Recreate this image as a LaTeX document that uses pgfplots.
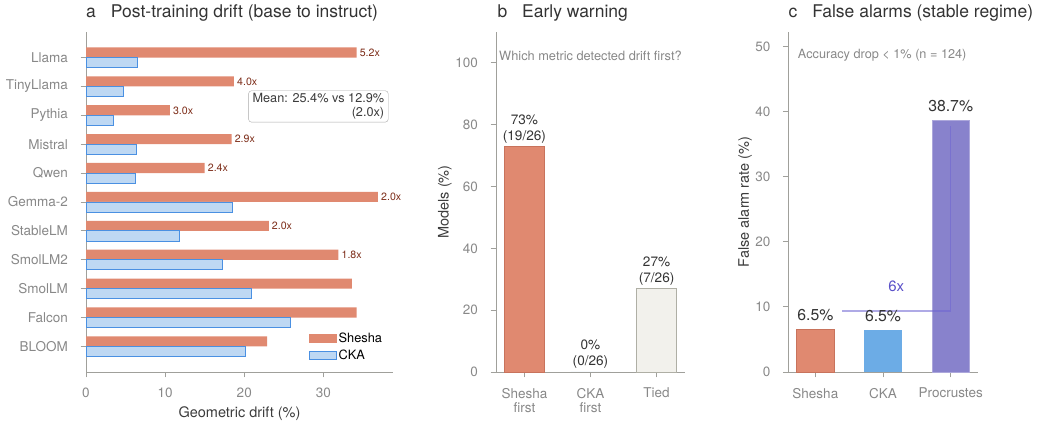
\documentclass[border=0pt]{standalone}
\usepackage{pgfplots}
\pgfplotsset{compat=1.18}
\usepackage{fontspec}
\setmainfont{TeX Gyre Heros}
\definecolor{shesha}{RGB}{224,137,112}
\definecolor{sheshaedge}{RGB}{200,115,92}
\definecolor{ckalight}{RGB}{190,216,243}
\definecolor{ckaedge}{RGB}{74,144,226}
\definecolor{ckac}{RGB}{108,172,230}
\definecolor{procr}{RGB}{136,130,204}
\definecolor{procline}{RGB}{110,100,210}
\definecolor{sixx}{RGB}{90,80,200}
\definecolor{tied}{RGB}{242,241,236}
\definecolor{tiededge}{RGB}{175,175,165}
\definecolor{spine}{RGB}{160,160,155}
\definecolor{tickc}{RGB}{136,136,136}
\definecolor{labc}{RGB}{60,60,60}
\definecolor{titlec}{RGB}{51,51,51}
\definecolor{ratioc}{RGB}{125,45,25}
\definecolor{boxc}{RGB}{170,170,170}

\pgfplotstableread{
y x lab
0 22.9 {}
1 34.2 {}
2 33.6 {}
3 31.9 1.8x
4 23.1 2.0x
5 36.9 2.0x
6 15.0 2.4x
7 18.4 2.9x
8 10.6 3.0x
9 18.7 4.0x
10 34.2 5.2x
}\sheshatab
\pgfplotstableread{
y x
0 20.2
1 25.9
2 20.9
3 17.2
4 11.8
5 18.5
6 6.3
7 6.4
8 3.5
9 4.7
10 6.5
}\ckatab

\begin{document}
\begin{tikzpicture}
\useasboundingbox (0pt,0pt) rectangle (1038pt,425pt);
\pgfplotsset{
  base/.style={
    scale only axis, anchor=south west,
    axis x line*=bottom, axis y line*=left,
    axis line style={spine, line width=0.9pt, -},
    tick align=outside, major tick length=5.5pt,
    tick style={spine, line width=0.9pt},
    ticklabel style={font=\fontsize{13.5}{16}\selectfont, text=tickc},
    xticklabel style={yshift=-7pt},
    yticklabel style={xshift=-9pt},
    /pgf/number format/assume math mode=true,
    label style={font=\fontsize{14.5}{17}\selectfont, text=labc},
    clip=false,
  }
}
% Titles
\node[anchor=base west, font=\fontsize{17.5}{20}\selectfont, text=titlec, inner sep=0pt] at (86pt,407.7pt) {a\hspace{15pt}Post-training drift (base to instruct)};
\node[anchor=base west, font=\fontsize{17.5}{20}\selectfont, text=titlec, inner sep=0pt] at (497.3pt,407.7pt) {b\hspace{15pt}Early warning};
\node[anchor=base west, font=\fontsize{17.5}{20}\selectfont, text=titlec, inner sep=0pt] at (788.3pt,407.7pt) {c\hspace{15pt}False alarms (stable regime)};

% Panel a
\begin{axis}[base, at={(86pt,53pt)}, width=307pt, height=340pt,
  xmin=0, xmax=38.8, ymin=-0.885, ymax=10.885,
  xtick={0,10,20,30}, ytick={0,...,10},
  yticklabels={BLOOM,Falcon,SmolLM,SmolLM2,StableLM,Gemma-2,Qwen,Mistral,Pythia,TinyLlama,Llama},
  xlabel={Geometric drift (\%)},
  xlabel style={at={(rel axis cs:0.5,-0.1324)}, anchor=base},
  legend style={draw=none, fill=none, at={(rel axis cs:0.725,0.121)}, anchor=north west,
    font=\fontsize{12.8}{15}\selectfont, text=black, row sep=2pt, inner sep=0pt},
  legend cell align=left,
]
\addplot[xbar, bar width=0.35, bar shift=0.175, fill=shesha, draw=none, forget plot,
  nodes near coords, point meta=explicit symbolic,
  nodes near coords style={font=\fontsize{10.6}{12}\selectfont, text=ratioc, anchor=west, inner sep=3pt, yshift=5pt}]
  table[x=x, y=y, meta=lab] {\sheshatab};
\addplot[xbar, bar width=0.35, bar shift=-0.175, fill=ckalight, draw=ckaedge, line width=0.9pt, forget plot]
  table[x=x, y=y] {\ckatab};
\addlegendimage{legend image code/.code={\fill[shesha] (0pt,-4pt) rectangle (27pt,4pt);}}
\addlegendentry{Shesha}
\addlegendimage{legend image code/.code={\draw[fill=ckalight, draw=ckaedge, line width=0.9pt] (0pt,-4pt) rectangle (27pt,4pt);}}
\addlegendentry{CKA}
\node[draw=boxc, rounded corners=3pt, fill=white, align=right, inner xsep=4pt, inner ysep=2.5pt,
  font=\fontsize{12.7}{14.5}\selectfont, text=labc] at (rel axis cs:0.757,0.781)
  {Mean: 25.4\% vs 12.9\%\\(2.0x)};
\end{axis}

% Panel b
\begin{axis}[base, at={(496pt,53pt)}, width=189pt, height=340pt,
  xmin=-0.43, xmax=2.43, ymin=0, ymax=110,
  xtick={0,1,2}, xticklabels={{Shesha\\first},{CKA\\first},Tied},
  xticklabel style={align=center, font=\fontsize{13.5}{14.3}\selectfont},
  ytick={0,20,...,100},
  ylabel={Models (\%)},
  ylabel style={at={(rel axis cs:-0.27,0.5)}, anchor=center},
  every node near coord/.append style={font=\fontsize{13.6}{16}\selectfont, text=titlec, align=center, anchor=south, inner sep=3pt},
]
\addplot[ybar, bar width=0.6, bar shift=0, fill=shesha, draw=sheshaedge, line width=0.8pt,
  nodes near coords, point meta=explicit symbolic] coordinates {(0,73) [73\%\\(19/26)]};
\addplot[ybar, bar width=0.6, bar shift=0, fill=ckalight, draw=none,
  nodes near coords, point meta=explicit symbolic] coordinates {(1,0) [0\%\\(0/26)]};
\addplot[ybar, bar width=0.6, bar shift=0, fill=tied, draw=tiededge, line width=0.8pt,
  nodes near coords, point meta=explicit symbolic] coordinates {(2,27) [27\%\\(7/26)]};
\node[anchor=west, font=\fontsize{12.8}{15}\selectfont, text=tickc, inner sep=0pt] at (rel axis cs:0.016,0.931) {Which metric detected drift first?};
\end{axis}

% Panel c
\begin{axis}[base, at={(788.3pt,53pt)}, width=189.4pt, height=340pt,
  xmin=-0.4, xmax=2.4, ymin=0, ymax=52.2,
  xtick={0,1,2}, xticklabels={Shesha,CKA,Procrustes},
  ytick={0,10,...,50},
  ylabel={False alarm rate (\%)},
  ylabel style={at={(rel axis cs:-0.2286,0.5)}, anchor=center},
  every node near coord/.append style={font=\fontsize{15.8}{18}\selectfont, text=titlec, anchor=south, inner sep=4pt, yshift=4pt},
]
\addplot[ybar, bar width=0.55, bar shift=0, fill=shesha, draw=sheshaedge, line width=0.8pt,
  nodes near coords, point meta=explicit symbolic] coordinates {(0,6.5) [6.5\%]};
\addplot[ybar, bar width=0.55, bar shift=0, fill=ckac, draw=none,
  nodes near coords, point meta=explicit symbolic] coordinates {(1,6.5) [6.5\%]};
\addplot[ybar, bar width=0.55, bar shift=0, fill=procr, draw=procr!70!white, line width=0.8pt,
  nodes near coords, point meta=explicit symbolic] coordinates {(2,38.7) [38.7\%]};
\addplot[procline, line width=1.6pt, opacity=0.55, forget plot] coordinates {(0.4,9.4) (2,9.4) (2,37.7)};
\node[font=\fontsize{15}{18}\selectfont, text=sixx] at (axis cs:1.195,13.2) {6x};
\node[anchor=west, font=\fontsize{12.7}{15}\selectfont, text=tickc, inner sep=0pt] at (rel axis cs:0.05,0.933) {Accuracy drop < 1\% (n = 124)};
\end{axis}
\end{tikzpicture}
\end{document}
